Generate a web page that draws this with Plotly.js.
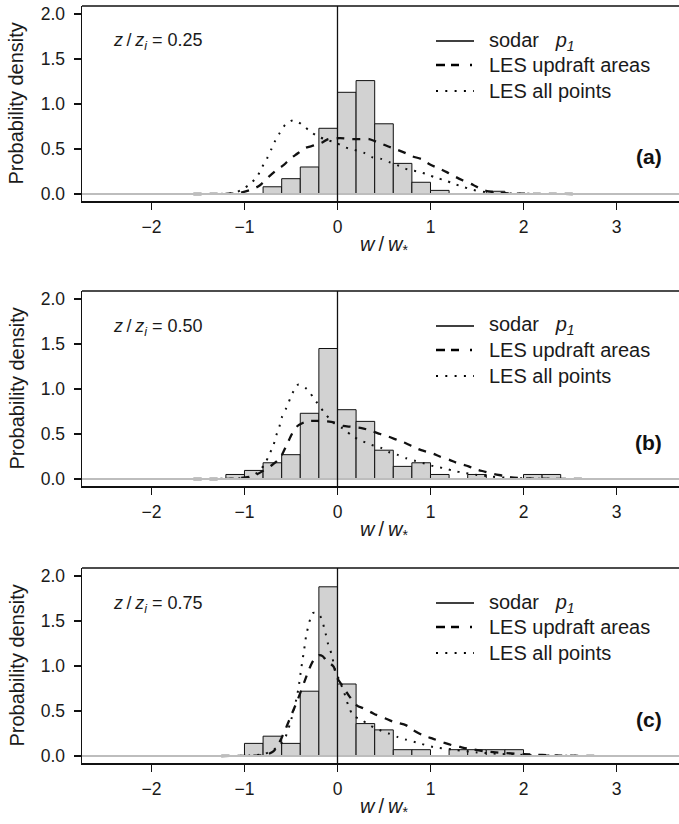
<!DOCTYPE html>
<html>
<head>
<meta charset="utf-8">
<script src="https://cdn.plot.ly/plotly-3.0.1.min.js"></script>
<style>html,body{margin:0;padding:0;background:#fff;}#chart{width:679px;height:824px;}</style>
</head>
<body>
<div id="chart"></div>
<script>
// ---------- data ----------
const xTickVals = [-2, -1, 0, 1, 2, 3];
const xTickText = ['\u22122', '\u22121', '0', '1', '2', '3'];
const yTickVals = [0, 0.5, 1, 1.5, 2];
const yTickText = ['0.0', '0.5', '1.0', '1.5', '2.0'];

const panelTags = ['(a)', '(b)', '(c)'];
const heightLabels = ['0.25', '0.50', '0.75'];
const legendLabels = ['sodar\u00A0\u00A0\u00A0<i>p</i><sub><i>1</i></sub>', 'LES updraft areas', 'LES all points'];
const binWidth = 0.2;

// panel (a) z/zi = 0.25
const binLeftA = [-0.8, -0.6, -0.4, -0.2, 0.0, 0.2, 0.4, 0.6, 0.8, 1.0, 1.6];
const densA    = [0.08, 0.17, 0.30, 0.73, 1.13, 1.26, 0.78, 0.34, 0.13, 0.04, 0.03];
const dashXA = [-1.55, -1.2, -1.06, -0.9, -0.83, -0.74, -0.65, -0.58, -0.51, -0.43, -0.35, -0.25, -0.17, -0.1, 0.03, 0.15, 0.24, 0.34, 0.42, 0.54, 0.62, 0.72, 0.80, 0.91, 0.99, 1.09, 1.18, 1.27, 1.35, 1.46, 1.53, 1.62, 1.8, 2.1, 2.55];
const dashYA = [0, 0.002, 0.01, 0.06, 0.10, 0.19, 0.27, 0.32, 0.39, 0.45, 0.51, 0.54, 0.57, 0.61, 0.62, 0.61, 0.61, 0.61, 0.58, 0.53, 0.50, 0.46, 0.42, 0.385, 0.33, 0.285, 0.24, 0.19, 0.15, 0.10, 0.06, 0.03, 0.01, 0.002, 0];
const dotXA = [-1.55, -1.2, -1.1, -1.01, -0.93, -0.86, -0.81, -0.76, -0.71, -0.67, -0.62, -0.56, -0.47, -0.38, -0.30, -0.21, -0.11, -0.02, 0.08, 0.18, 0.28, 0.37, 0.47, 0.57, 0.67, 0.76, 0.86, 0.96, 1.06, 1.16, 1.26, 1.35, 1.46, 1.6, 1.75, 2.0, 2.55];
const dotYA = [0, 0.003, 0.015, 0.06, 0.12, 0.20, 0.30, 0.39, 0.50, 0.59, 0.68, 0.77, 0.82, 0.77, 0.70, 0.64, 0.60, 0.57, 0.52, 0.49, 0.46, 0.41, 0.39, 0.35, 0.31, 0.27, 0.25, 0.22, 0.18, 0.15, 0.11, 0.08, 0.045, 0.02, 0.008, 0.002, 0];

// panel (b) z/zi = 0.50
const binLeftB = [-1.2, -1.0, -0.8, -0.6, -0.4, -0.2, 0.0, 0.2, 0.4, 0.6, 0.8, 1.0, 1.4, 2.0, 2.2];
const densB    = [0.05, 0.095, 0.18, 0.27, 0.73, 1.45, 0.77, 0.64, 0.32, 0.14, 0.18, 0.05, 0.05, 0.05, 0.05];
const dashXB = [-1.55, -1.1, -0.92, -0.88, -0.8, -0.71, -0.62, -0.55, -0.49, -0.44, -0.33, -0.22, -0.12, -0.04, 0.06, 0.15, 0.26, 0.35, 0.46, 0.55, 0.65, 0.73, 0.83, 0.9, 1.03, 1.10, 1.21, 1.28, 1.41, 1.48, 1.59, 1.68, 1.8, 1.87, 2.1, 2.7];
const dashYB = [0, 0.005, 0.03, 0.045, 0.09, 0.15, 0.23, 0.37, 0.50, 0.58, 0.64, 0.645, 0.64, 0.63, 0.59, 0.58, 0.565, 0.54, 0.50, 0.47, 0.43, 0.40, 0.35, 0.32, 0.28, 0.25, 0.21, 0.18, 0.14, 0.11, 0.08, 0.055, 0.033, 0.018, 0.005, 0];
const dotXB = [-1.55, -1.1, -0.95, -0.85, -0.78, -0.73, -0.69, -0.66, -0.625, -0.6, -0.55, -0.51, -0.47, -0.42, -0.33, -0.25, -0.15, -0.05, 0.06, 0.17, 0.27, 0.36, 0.46, 0.55, 0.64, 0.74, 0.84, 0.94, 1.04, 1.14, 1.25, 1.35, 1.5, 1.66, 1.85, 2.1, 2.7];
const dotYB = [0, 0.005, 0.02, 0.08, 0.17, 0.28, 0.37, 0.48, 0.58, 0.68, 0.79, 0.89, 0.98, 1.05, 1.00, 0.89, 0.75, 0.63, 0.56, 0.47, 0.42, 0.38, 0.35, 0.30, 0.27, 0.23, 0.20, 0.17, 0.14, 0.12, 0.09, 0.07, 0.045, 0.026, 0.012, 0.004, 0];

// panel (c) z/zi = 0.75
const binLeftC = [-1.0, -0.8, -0.6, -0.4, -0.2, 0.0, 0.2, 0.4, 0.6, 0.8, 1.2, 1.4, 1.6, 1.8];
const densC    = [0.14, 0.22, 0.14, 0.72, 1.88, 0.80, 0.36, 0.29, 0.07, 0.07, 0.07, 0.07, 0.07, 0.07];
const dashXC = [-1.25, -0.9, -0.78, -0.69, -0.62, -0.55, -0.51, -0.43, -0.35, -0.31, -0.26, -0.2, -0.16, -0.12, -0.04, -0.01, 0.06, 0.13, 0.21, 0.28, 0.39, 0.51, 0.6, 0.74, 0.81, 0.92, 1.03, 1.14, 1.23, 1.32, 1.39, 1.6, 2.0, 2.4, 2.8];
const dashYC = [0, 0.003, 0.01, 0.05, 0.16, 0.32, 0.42, 0.62, 0.84, 0.95, 1.06, 1.12, 1.11, 1.06, 0.99, 0.88, 0.77, 0.66, 0.56, 0.53, 0.47, 0.42, 0.38, 0.34, 0.29, 0.23, 0.19, 0.15, 0.12, 0.10, 0.085, 0.05, 0.02, 0.005, 0];
const dotXC = [-1.25, -0.95, -0.8, -0.7, -0.62, -0.56, -0.51, -0.46, -0.42, -0.39, -0.36, -0.33, -0.26, -0.19, -0.13, -0.10, -0.06, -0.03, 0.02, 0.07, 0.12, 0.17, 0.26, 0.35, 0.45, 0.55, 0.65, 0.74, 0.85, 1.03, 1.25, 1.5, 1.8, 2.2, 2.8];
const dotYC = [0, 0.004, 0.02, 0.06, 0.12, 0.21, 0.36, 0.55, 0.75, 0.97, 1.17, 1.37, 1.59, 1.56, 1.37, 1.24, 1.12, 0.97, 0.84, 0.71, 0.55, 0.45, 0.40, 0.34, 0.29, 0.25, 0.21, 0.18, 0.15, 0.10, 0.07, 0.04, 0.02, 0.006, 0];

// ---------- layout helpers ----------
const W = 679, H = 824;
const FONT = 'Liberation Sans, Arial, Helvetica, sans-serif';
const px = v => v / W;
const py = v => 1 - v / H;
const plotLeft = 82;
const panelTops = [6, 291, 568];
const panelBottoms = [201, 486, 763];

const bins = [binLeftA, binLeftB, binLeftC];
const dens = [densA, densB, densC];
const dashX = [dashXA, dashXB, dashXC];
const dashY = [dashYA, dashYB, dashYC];
const dotX = [dotXA, dotXB, dotXC];
const dotY = [dotYA, dotYB, dotYC];

const traces = [];
const shapes = [];
const annotations = [];
const layout = {
  width: W, height: H,
  margin: {l: 0, r: 0, t: 0, b: 0},
  paper_bgcolor: '#ffffff', plot_bgcolor: '#ffffff',
  showlegend: false,
  font: {family: FONT, color: '#1a1a1a', size: 17},
  bargap: 0
};

for (let i = 0; i < 3; i++) {
  const sfx = i === 0 ? '' : String(i + 1);
  const xa = 'x' + sfx, ya = 'y' + sfx;
  const top = panelTops[i], bot = panelBottoms[i];

  layout['xaxis' + sfx] = {
    domain: [px(plotLeft), 1], anchor: ya,
    range: [-2.747, 3.672], fixedrange: true,
    showline: true, linecolor: '#111', linewidth: 1.6,
    ticks: 'outside', ticklen: 7, tickwidth: 1.2, tickcolor: '#111',
    tickvals: xTickVals, ticktext: xTickText,
    tickfont: {family: FONT, size: 17.5, color: '#1a1a1a'},
    ticklabelstandoff: 2,
    showgrid: false, zeroline: false
  };
  layout['yaxis' + sfx] = {
    domain: [py(bot), py(top)], anchor: xa,
    range: [-0.078, 2.089], fixedrange: true,
    showline: true, linecolor: '#111', linewidth: 1.5,
    ticks: 'outside', ticklen: 7, tickwidth: 1.2, tickcolor: '#111',
    tickvals: yTickVals, ticktext: yTickText,
    tickfont: {family: FONT, size: 17.5, color: '#1a1a1a'},
    ticklabelstandoff: 5,
    showgrid: false, zeroline: false
  };

  // histogram bars
  traces.push({
    type: 'bar', x: bins[i], y: dens[i], width: binWidth, offset: 0,
    xaxis: xa, yaxis: ya,
    marker: {color: '#d2d2d2', line: {color: '#111', width: 1}},
    hoverinfo: 'skip'
  });
  // LES updraft areas (dashed)
  traces.push({
    type: 'scatter', mode: 'lines', x: dashX[i], y: dashY[i],
    xaxis: xa, yaxis: ya,
    line: {color: '#111', width: 2.3, dash: '8px,8px', shape: 'spline', smoothing: 0.8},
    hoverinfo: 'skip'
  });
  // LES all points (dotted)
  traces.push({
    type: 'scatter', mode: 'lines', x: dotX[i], y: dotY[i],
    xaxis: xa, yaxis: ya,
    line: {color: '#111', width: 2, dash: '2px,7px', shape: 'spline', smoothing: 0.8},
    hoverinfo: 'skip'
  });

  // gray zero line
  shapes.push({type: 'line', xref: xa + ' domain', yref: ya, x0: 0, x1: 1, y0: 0, y1: 0,
    line: {color: '#bdbdbd', width: 2}, layer: 'above'});
  // vertical line at zero
  shapes.push({type: 'line', xref: xa, yref: ya + ' domain', x0: 0, x1: 0, y0: 0, y1: 1,
    line: {color: '#111', width: 1.3}, layer: 'above'});
  // top border of the box
  shapes.push({type: 'line', xref: 'paper', yref: 'paper', x0: px(plotLeft), x1: 1, y0: py(top), y1: py(top),
    line: {color: '#111', width: 1.5}});

  // legend (manual)
  const rows = [top + 35, top + 59, top + 85];
  const dashes = ['solid', '9px,6px,8px,11px,2px,10px', '2px,7.3px'];
  const widths = [1.4, 2.3, 2];
  for (let k = 0; k < 3; k++) {
    shapes.push({type: 'line', xref: 'paper', yref: 'paper',
      x0: px(436), x1: px(474), y0: py(rows[k]), y1: py(rows[k]),
      line: {color: '#000', width: widths[k], dash: dashes[k]}});
    annotations.push({xref: 'paper', yref: 'paper', x: px(487), y: py(rows[k]),
      xanchor: 'left', yanchor: 'middle', showarrow: false, text: legendLabels[k],
      font: {family: FONT, size: 20, color: '#1a1a1a'}});
  }

  // panel tag
  annotations.push({xref: 'paper', yref: 'paper', x: px(664), y: py(top + 151),
    xanchor: 'right', yanchor: 'middle', showarrow: false, text: '<b>' + panelTags[i] + '</b>',
    font: {family: FONT, size: 21, color: '#111'}});
  // height label
  annotations.push({xref: 'paper', yref: 'paper', x: px(111), y: py(top + 36),
    xanchor: 'left', yanchor: 'middle', showarrow: false,
    text: '<i>z</i>\u2009/\u2009<i>z</i><sub><i>i</i></sub> = ' + heightLabels[i],
    font: {family: FONT, size: 18, color: '#1a1a1a'}});
  // y title
  annotations.push({xref: 'paper', yref: 'paper', x: px(16), y: py((top + bot) / 2),
    xanchor: 'center', yanchor: 'middle', showarrow: false, textangle: -90,
    text: 'Probability density', font: {family: FONT, size: 20, color: '#1a1a1a'}});
  // x title
  annotations.push({xref: 'paper', yref: 'paper', x: px(384), y: py(bot + 44),
    xanchor: 'center', yanchor: 'middle', showarrow: false,
    text: '<i>w</i>\u2009/\u2009<i>w</i><sub>*</sub>', font: {family: FONT, size: 20, color: '#1a1a1a'}});
}

layout.shapes = shapes;
layout.annotations = annotations;

Plotly.newPlot('chart', traces, layout, {staticPlot: true, displayModeBar: false});
</script>
</body>
</html>
